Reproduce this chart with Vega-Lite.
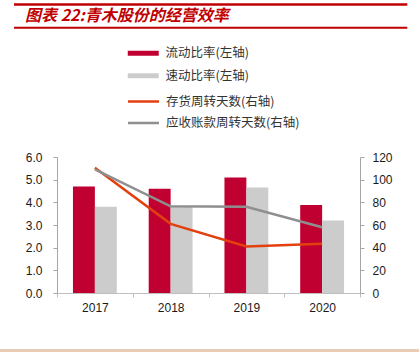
{
  "$schema": "https://vega.github.io/schema/vega-lite/v6.json",
  "width": 303,
  "height": 136,
  "autosize": {"type": "none"},
  "padding": {"left": 57, "top": 157, "right": 59, "bottom": 64},
  "background": "white",
  "config": {"view": {"stroke": null}, "font": "Liberation Sans"},
  "datasets": {
    "bars": [
      {"year": "2017", "series": "流动比率(左轴)", "value": 4.7},
      {"year": "2017", "series": "速动比率(左轴)", "value": 3.8},
      {"year": "2018", "series": "流动比率(左轴)", "value": 4.6},
      {"year": "2018", "series": "速动比率(左轴)", "value": 3.82},
      {"year": "2019", "series": "流动比率(左轴)", "value": 5.1},
      {"year": "2019", "series": "速动比率(左轴)", "value": 4.65},
      {"year": "2020", "series": "流动比率(左轴)", "value": 3.88},
      {"year": "2020", "series": "速动比率(左轴)", "value": 3.2}
    ],
    "lines": [
      {"year": "2017", "series": "存货周转天数(右轴)", "value": 110.5},
      {"year": "2018", "series": "存货周转天数(右轴)", "value": 61},
      {"year": "2019", "series": "存货周转天数(右轴)", "value": 41},
      {"year": "2020", "series": "存货周转天数(右轴)", "value": 43.5},
      {"year": "2017", "series": "应收账款周转天数(右轴)", "value": 109},
      {"year": "2018", "series": "应收账款周转天数(右轴)", "value": 76.5},
      {"year": "2019", "series": "应收账款周转天数(右轴)", "value": 76},
      {"year": "2020", "series": "应收账款周转天数(右轴)", "value": 58}
    ],
    "title": [{"text": "图表 22:青木股份的经营效率"}]
  },
  "layer": [
    {
      "layer": [
        {
          "data": {"name": "bars"},
          "mark": {"type": "bar"},
          "encoding": {
            "x": {
              "field": "year", "type": "nominal",
              "scale": {"paddingInner": 0, "paddingOuter": 0},
              "axis": {"title": null, "labelAngle": 0, "tickBand": "extent", "tickSize": 4, "tickColor": "#BFBFBF", "domainColor": "#BFBFBF", "labelFontSize": 12, "labelColor": "#1a1a1a", "labelPadding": 5, "labelFont": "Liberation Sans"}
            },
            "xOffset": {"field": "series", "scale": {"domain": ["流动比率(左轴)", "速动比率(左轴)"], "paddingInner": 0, "paddingOuter": 0.728}},
            "y": {
              "field": "value", "type": "quantitative",
              "scale": {"domain": [0, 6], "nice": false},
              "axis": {"title": null, "values": [0, 1, 2, 3, 4, 5, 6], "format": ".1f", "grid": false, "tickSize": 4, "tickColor": "#A6A6A6", "domainColor": "#A6A6A6", "labelFontSize": 12, "labelColor": "#1a1a1a", "labelPadding": 11, "labelFont": "Liberation Sans"}
            },
            "fill": {
              "field": "series", "type": "nominal",
              "scale": {"domain": ["流动比率(左轴)", "速动比率(左轴)"], "range": ["#C00030", "#CCCCCC"]},
              "legend": {"title": null, "orient": "none", "legendX": 80, "legendY": -110, "padding": 0, "symbolType": "M-3.1,-0.5H3.1V0.5H-3.1Z", "symbolSize": 100, "symbolStrokeWidth": 0, "labelOffset": 16, "labelFont": "Noto Sans CJK SC", "labelFontSize": 12.5, "labelColor": "#333333", "rowPadding": 9.5}
            }
          }
        },
        {
          "data": {"name": "lines"},
          "mark": {"type": "line", "strokeWidth": 2.5},
          "encoding": {
            "x": {"field": "year", "type": "nominal"},
            "y": {
              "field": "value", "type": "quantitative",
              "scale": {"domain": [0, 120], "nice": false},
              "axis": {"orient": "right", "title": null, "values": [0, 20, 40, 60, 80, 100, 120], "grid": false, "tickSize": 4, "tickColor": "#A6A6A6", "domainColor": "#A6A6A6", "labelFontSize": 12, "labelColor": "#1a1a1a", "labelPadding": 8, "labelFont": "Liberation Sans"}
            },
            "stroke": {
              "field": "series", "type": "nominal",
              "scale": {"domain": ["存货周转天数(右轴)", "应收账款周转天数(右轴)"], "range": ["#E2400F", "#8F8F8F"]},
              "legend": {"title": null, "orient": "none", "legendX": 80, "legendY": -62, "padding": 0, "symbolType": "M-3.1,0H3.1", "symbolSize": 100, "symbolStrokeWidth": 2.5, "labelOffset": 16, "labelFont": "Noto Sans CJK SC", "labelFontSize": 12.5, "labelColor": "#333333", "rowPadding": 8.5}
            }
          }
        }
      ],
      "resolve": {"scale": {"y": "independent"}}
    },
    {
      "data": {"name": "title"},
      "mark": {"type": "rule", "color": "#C00000", "strokeWidth": 2.3},
      "encoding": {
        "x": {"datum": -0.1419, "type": "quantitative", "scale": {"domain": [0, 1], "nice": false, "zero": false}, "axis": null},
        "x2": {"datum": 1.1561},
        "y": {"datum": 2.1213, "type": "quantitative", "scale": {"domain": [0, 1], "nice": false, "zero": false}, "axis": null}
      }
    },
    {
      "data": {"name": "title"},
      "mark": {"type": "rule", "color": "#C00000", "strokeWidth": 2},
      "encoding": {
        "x": {"datum": -0.1419, "type": "quantitative", "scale": {"domain": [0, 1], "nice": false, "zero": false}, "axis": null},
        "x2": {"datum": 1.1561},
        "y": {"datum": 1.9507, "type": "quantitative", "scale": {"domain": [0, 1], "nice": false, "zero": false}, "axis": null}
      }
    },
    {
      "data": {"name": "title"},
      "mark": {"type": "rule", "color": "#EBCDB7", "strokeWidth": 3},
      "encoding": {
        "x": {"datum": -0.1881, "type": "quantitative", "scale": {"domain": [0, 1], "nice": false, "zero": false}, "axis": null},
        "x2": {"datum": 1.1947},
        "y": {"datum": -0.4228, "type": "quantitative", "scale": {"domain": [0, 1], "nice": false, "zero": false}, "axis": null}
      }
    },
    {
      "data": {"name": "title"},
      "mark": {"type": "text", "color": "#C00000", "font": "Noto Sans CJK SC", "fontSize": 16, "fontWeight": "bold", "fontStyle": "italic", "align": "left", "baseline": "alphabetic"},
      "encoding": {
        "text": {"field": "text"},
        "x": {"datum": -0.1056, "type": "quantitative", "scale": {"domain": [0, 1], "nice": false, "zero": false}, "axis": null},
        "y": {"datum": 2.0, "type": "quantitative", "scale": {"domain": [0, 1], "nice": false, "zero": false}, "axis": null}
      }
    }
  ],
  "resolve": {"scale": {"x": "independent", "y": "independent"}}
}
